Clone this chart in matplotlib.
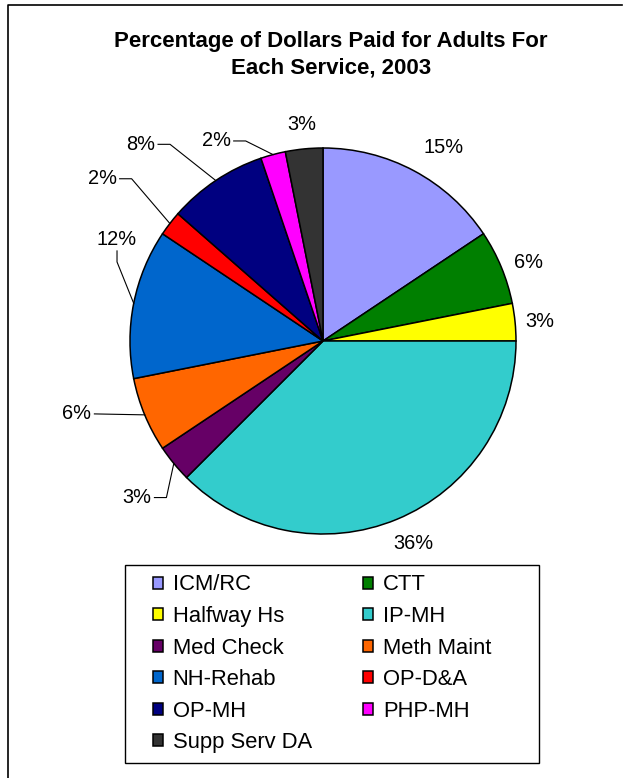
import numpy as np
import matplotlib
matplotlib.use("Agg")
import matplotlib.pyplot as plt
from matplotlib.patches import Rectangle
from matplotlib.lines import Line2D

plt.rcParams["font.family"] = ["Liberation Sans", "DejaVu Sans"]

# datos del grafico
servicios = ["ICM/RC", "CTT", "Halfway Hs", "IP-MH", "Med Check", "Meth Maint",
             "NH-Rehab", "OP-D&A", "OP-MH", "PHP-MH", "Supp Serv DA"]
porcentajes = [15, 6, 3, 36, 3, 6, 12, 2, 8, 2, 3]
etiquetas = [f"{p}%" for p in porcentajes]
colores = ["#9999FF", "#007F00", "#FFFF00", "#33CCCC", "#660066", "#FF6600",
           "#0066CC", "#FF0000", "#000080", "#FF00FF", "#333333"]

# ubicacion de las etiquetas: distancia al centro y desfase angular (grados)
dist_etiqueta = [1.18, 1.14, 1.13, 1.15, 1.26, 1.33, 1.19, 1.42, 1.39, 1.175, 1.125]
desfase = [3.8, 1.5, 0.6, -1.5, -0.7, 6.0, 15.0, -1.2, -9.1, -13.1, 0.0]
# tipo de linea guia
guia = [None, None, None, None, "derecha", "recta", "abajo", "derecha",
        "derecha", "derecha", None]

W, H = 627, 778
fig = plt.figure(figsize=(W / 100, H / 100), dpi=100)

# borde superior e izquierdo
fig.lines.append(Line2D([7.5 / W, 7.5 / W, 622 / W], [0, 1 - 5 / H, 1 - 5 / H],
                        transform=fig.transFigure, color="black", linewidth=1.2))

# ejes del pastel: centro en (323, 341) px, radio 193 px
R = 193
cx, cy = 323, H - 341
xl, yl = 1.6, 1.25
ax = fig.add_axes([(cx - xl * R) / W, (cy - yl * R) / H, 2 * xl * R / W, 2 * yl * R / H])

wedges, _ = ax.pie(porcentajes, colors=colores, startangle=90, counterclock=False,
                   radius=1.0, wedgeprops=dict(edgecolor="black", linewidth=1.1))
ax.set_xlim(-xl, xl)
ax.set_ylim(-yl, yl)
ax.set_aspect("equal")
ax.axis("off")

# etiquetas de porcentaje
total = sum(porcentajes)
textos = []
medios = []
acum = 0
for i, p in enumerate(porcentajes):
    medio = (acum + p / 2) / total * 360
    acum += p
    medios.append(medio)
    ang = np.radians(medio + desfase[i])
    t = ax.text(dist_etiqueta[i] * np.sin(ang), dist_etiqueta[i] * np.cos(ang),
                etiquetas[i], ha="center", va="center", fontsize=14.4)
    textos.append(t)

# lineas guia
fig.canvas.draw()
inv = ax.transData.inverted()
for i, t in enumerate(textos):
    if guia[i] is None:
        continue
    bb = t.get_window_extent()
    ang = np.radians(medios[i])
    fin = ax.transData.transform((np.sin(ang), np.cos(ang)))
    yc = (bb.y0 + bb.y1) / 2
    if guia[i] == "derecha":
        pts = [(bb.x1 + 3, yc), (bb.x1 + 15, yc), tuple(fin)]
    elif guia[i] == "recta":
        pts = [(bb.x1 + 3, yc), tuple(fin)]
    else:
        xc = (bb.x0 + bb.x1) / 2
        pts = [(xc, bb.y0 - 2), (xc, bb.y0 - 13), tuple(fin)]
    pts = inv.transform(pts)
    ax.plot(pts[:, 0], pts[:, 1], color="black", linewidth=0.8)

# titulo
fig.text(331 / W, 1 - 55 / H, "Percentage of Dollars Paid for Adults For\nEach Service, 2003",
         ha="center", va="center", fontsize=16, fontweight="bold", linespacing=1.36)

# caja de la leyenda
fig.patches.append(Rectangle((125 / W, 1 - 763 / H), (539 - 125) / W, (763 - 565) / H,
                             transform=fig.transFigure, fill=False,
                             edgecolor="black", linewidth=1.0))

# leyenda, ordenada por filas
orden = [0, 2, 4, 6, 8, 10, 1, 3, 5, 7, 9]
leg = fig.legend([wedges[k] for k in orden], [servicios[k] for k in orden],
                 ncol=2, loc="upper left", bbox_to_anchor=(153 / W, 1 - 574.5 / H),
                 fontsize=15.8, frameon=False,
                 handlelength=0.45, handleheight=0.45,
                 handletextpad=0.45, labelspacing=0.48, borderpad=0,
                 columnspacing=2.35, borderaxespad=0)

fig.savefig("out.png", dpi=100)
